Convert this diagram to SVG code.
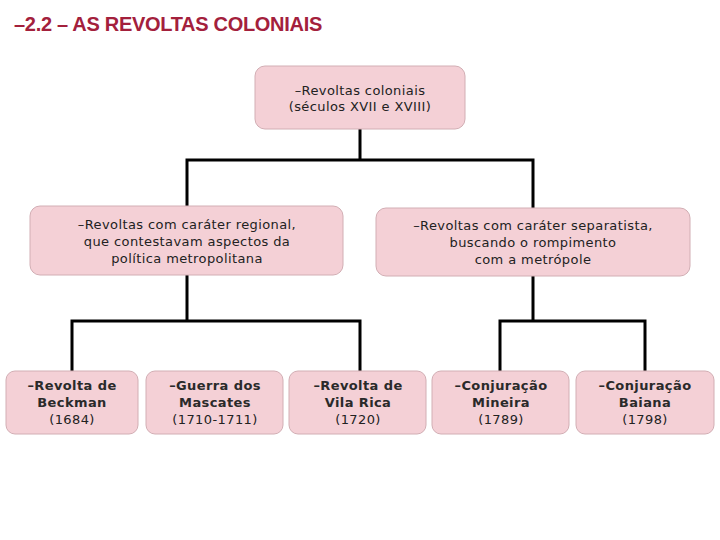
<svg xmlns="http://www.w3.org/2000/svg" width="720" height="540" viewBox="0 0 720 540">
<style>
.n{fill:#f4d0d6;stroke:#d2aeb4;stroke-width:1}
.t{font-family:"DejaVu Sans",Verdana,sans-serif;font-size:13px;fill:#222;text-anchor:middle;letter-spacing:0.4px}
.b{font-weight:bold;fill:#2a2a2a}
.c{stroke:#000;stroke-width:3;fill:none}
</style>
<rect width="720" height="540" fill="#fff"/>
<text x="14" y="31" font-family="'Liberation Sans',Arial,sans-serif" font-size="20" font-weight="bold" fill="#a3203c" letter-spacing="-0.3">–2.2 – AS REVOLTAS COLONIAIS</text>
<g id="connectors">
<path class="c" d="M360 129V160M187 206V160H533V208"/>
<path class="c" d="M187 275V321M72 371V321H360V371"/>
<path class="c" d="M533 276V321M500 371V321H645V371"/>
</g>
<g id="root"><rect class="n" x="255" y="66" width="210" height="63" rx="10"/><text class="t" x="360" y="95">–Revoltas coloniais</text><text class="t" x="360" y="111">(séculos XVII e XVIII)</text></g>
<g id="regional"><rect class="n" x="30" y="206" width="313" height="69" rx="10"/><text class="t" x="187" y="229">–Revoltas com caráter regional,</text><text class="t" x="187" y="246">que contestavam aspectos da</text><text class="t" x="187" y="263">política metropolitana</text></g>
<g id="separatista"><rect class="n" x="376" y="208" width="314" height="68" rx="10"/><text class="t" x="533" y="230">–Revoltas com caráter separatista,</text><text class="t" x="533" y="247">buscando o rompimento</text><text class="t" x="533" y="264">com a metrópole</text></g>
<g id="beckman"><rect class="n" x="6" y="371" width="132" height="63" rx="9"/><text class="t b" x="72" y="390">–Revolta de</text><text class="t b" x="72" y="407">Beckman</text><text class="t" x="72" y="424">(1684)</text></g>
<g id="mascates"><rect class="n" x="146" y="371" width="137" height="63" rx="9"/><text class="t b" x="215" y="390">–Guerra dos</text><text class="t b" x="215" y="407">Mascates</text><text class="t" x="215" y="424">(1710-1711)</text></g>
<g id="vilarica"><rect class="n" x="289" y="371" width="137" height="63" rx="9"/><text class="t b" x="358" y="390">–Revolta de</text><text class="t b" x="358" y="407">Vila Rica</text><text class="t" x="358" y="424">(1720)</text></g>
<g id="mineira"><rect class="n" x="432" y="371" width="137" height="63" rx="9"/><text class="t b" x="501" y="390">–Conjuração</text><text class="t b" x="501" y="407">Mineira</text><text class="t" x="501" y="424">(1789)</text></g>
<g id="baiana"><rect class="n" x="576" y="371" width="138" height="63" rx="9"/><text class="t b" x="645" y="390">–Conjuração</text><text class="t b" x="645" y="407">Baiana</text><text class="t" x="645" y="424">(1798)</text></g>
</svg>
